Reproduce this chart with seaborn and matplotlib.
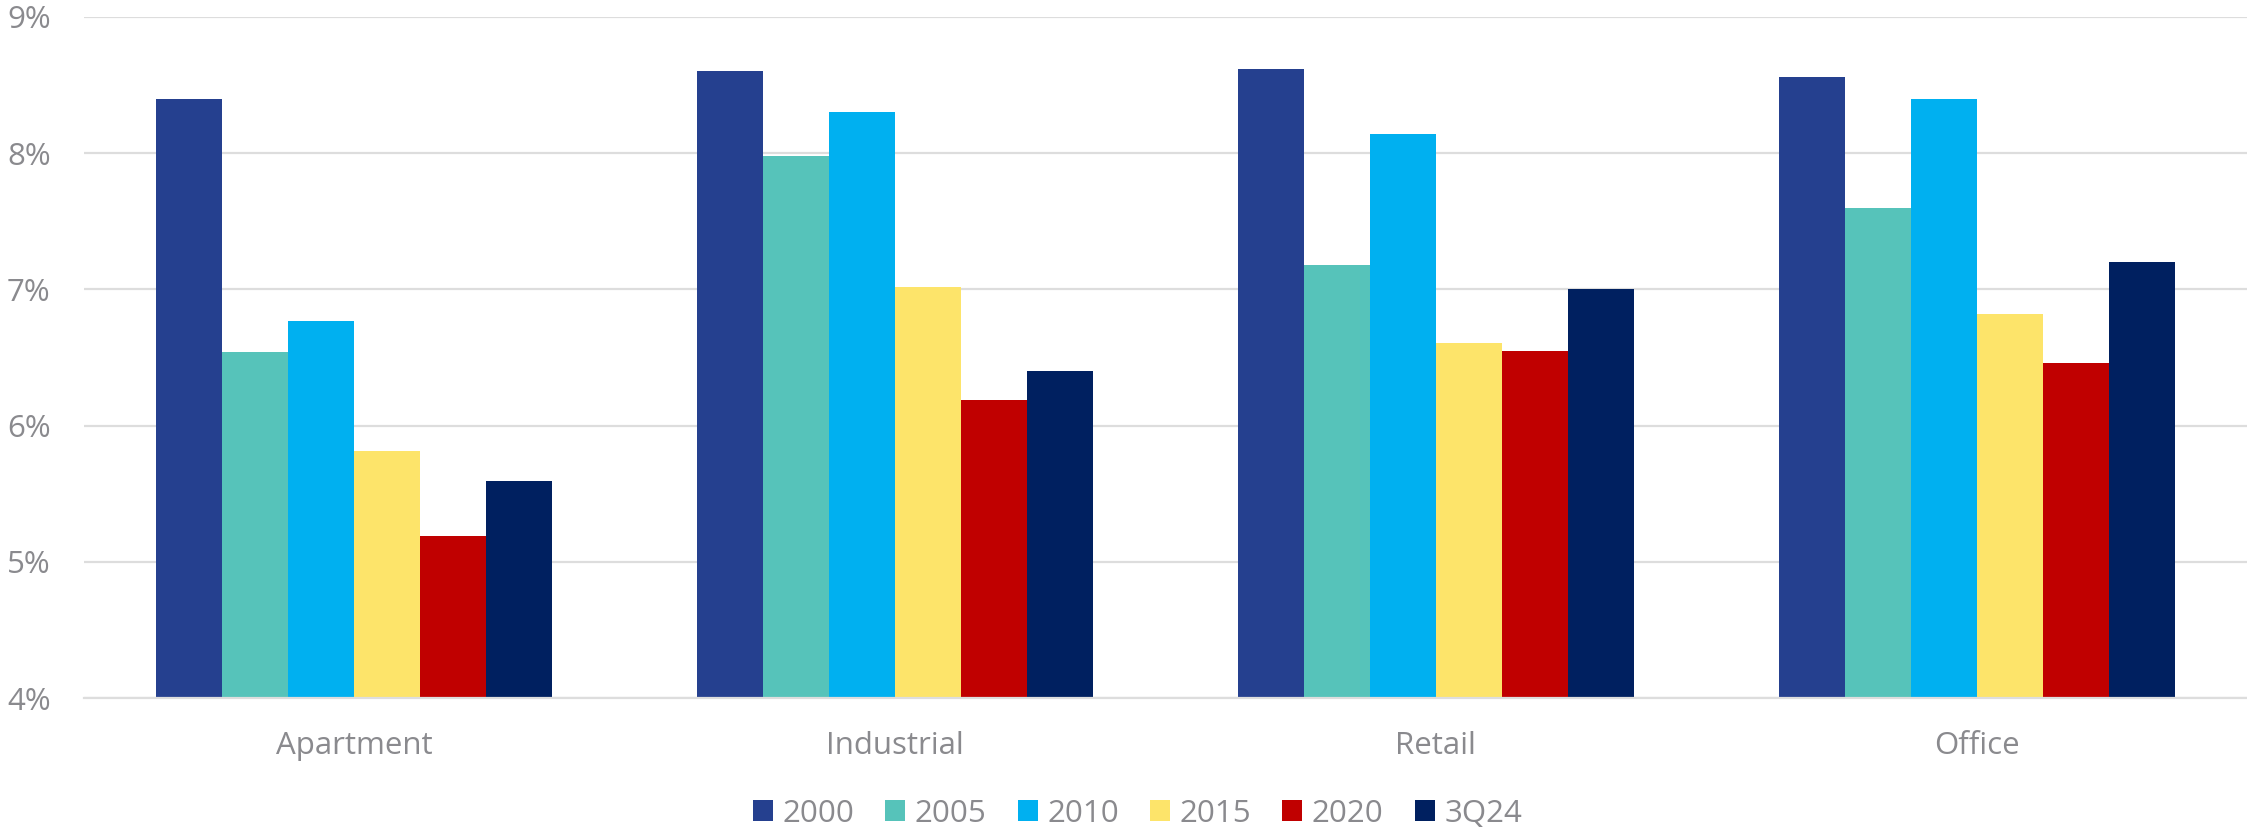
import matplotlib
matplotlib.use("Agg")
import matplotlib.pyplot as plt
import matplotlib.ticker as mticker
import pandas as pd
import seaborn as sns

# Cap rates by property type and period (%)
property_types = ["Apartment", "Industrial", "Retail", "Office"]
periods = ["2000", "2005", "2010", "2015", "2020", "3Q24"]
rate_2000 = [8.40, 8.60, 8.62, 8.56]
rate_2005 = [6.54, 7.98, 7.18, 7.60]
rate_2010 = [6.77, 8.30, 8.14, 8.40]
rate_2015 = [5.81, 7.02, 6.61, 6.82]
rate_2020 = [5.19, 6.19, 6.55, 6.46]
rate_3q24 = [5.59, 6.40, 7.00, 7.20]
period_colors = ["#25408F", "#56C3BA", "#00B0F0", "#FDE46A", "#C00000", "#002060"]
y_ticks = [4, 5, 6, 7, 8, 9]

series = [rate_2000, rate_2005, rate_2010, rate_2015, rate_2020, rate_3q24]
rows = []
for period, values in zip(periods, series):
    for ptype, v in zip(property_types, values):
        rows.append({"type": ptype, "period": period, "rate": v})
df = pd.DataFrame(rows)

sns.set_theme(style="white")
plt.rcParams["font.family"] = ["Open Sans", "DejaVu Sans"]

text_gray = "#8A8A8E"
grid_gray = "#DDDDDD"

fig = plt.figure(figsize=(22.47, 8.27), dpi=100)
ax = fig.add_axes([84 / 2247, 1 - 698 / 827, 1 - 84 / 2247, (698 - 17) / 827])

sns.barplot(
    data=df, x="type", y="rate", hue="period",
    order=property_types, hue_order=periods,
    palette=dict(zip(periods, period_colors)),
    width=0.732, gap=0, saturation=1, linewidth=0, ax=ax,
)

ax.set_ylim(4, 9)
ax.set_xlim(-0.5, 3.5)
ax.set_yticks(y_ticks)
ax.yaxis.set_major_formatter(mticker.FuncFormatter(lambda v, _: f"{v:.0f}%"))
ax.set_xlabel("")
ax.set_ylabel("")
ax.grid(axis="y", color=grid_gray, linewidth=1.6)
ax.set_axisbelow(True)
for side in ["top", "right", "left"]:
    ax.spines[side].set_visible(False)
ax.spines["bottom"].set_color(grid_gray)
ax.spines["bottom"].set_linewidth(1.6)
ax.tick_params(axis="both", length=0, labelsize=22.5, labelcolor=text_gray)
ax.tick_params(axis="y", pad=24)
ax.tick_params(axis="x", pad=23.5)

sns.move_legend(
    ax, "center", bbox_to_anchor=(0.487, -0.17), ncol=6, frameon=False,
    title=None, fontsize=22.5, handlelength=0.64, handleheight=0.64,
    handletextpad=0.3, columnspacing=1.0,
)
for t in ax.get_legend().get_texts():
    t.set_color(text_gray)

fig.savefig("out.png", dpi=100, facecolor="white")
